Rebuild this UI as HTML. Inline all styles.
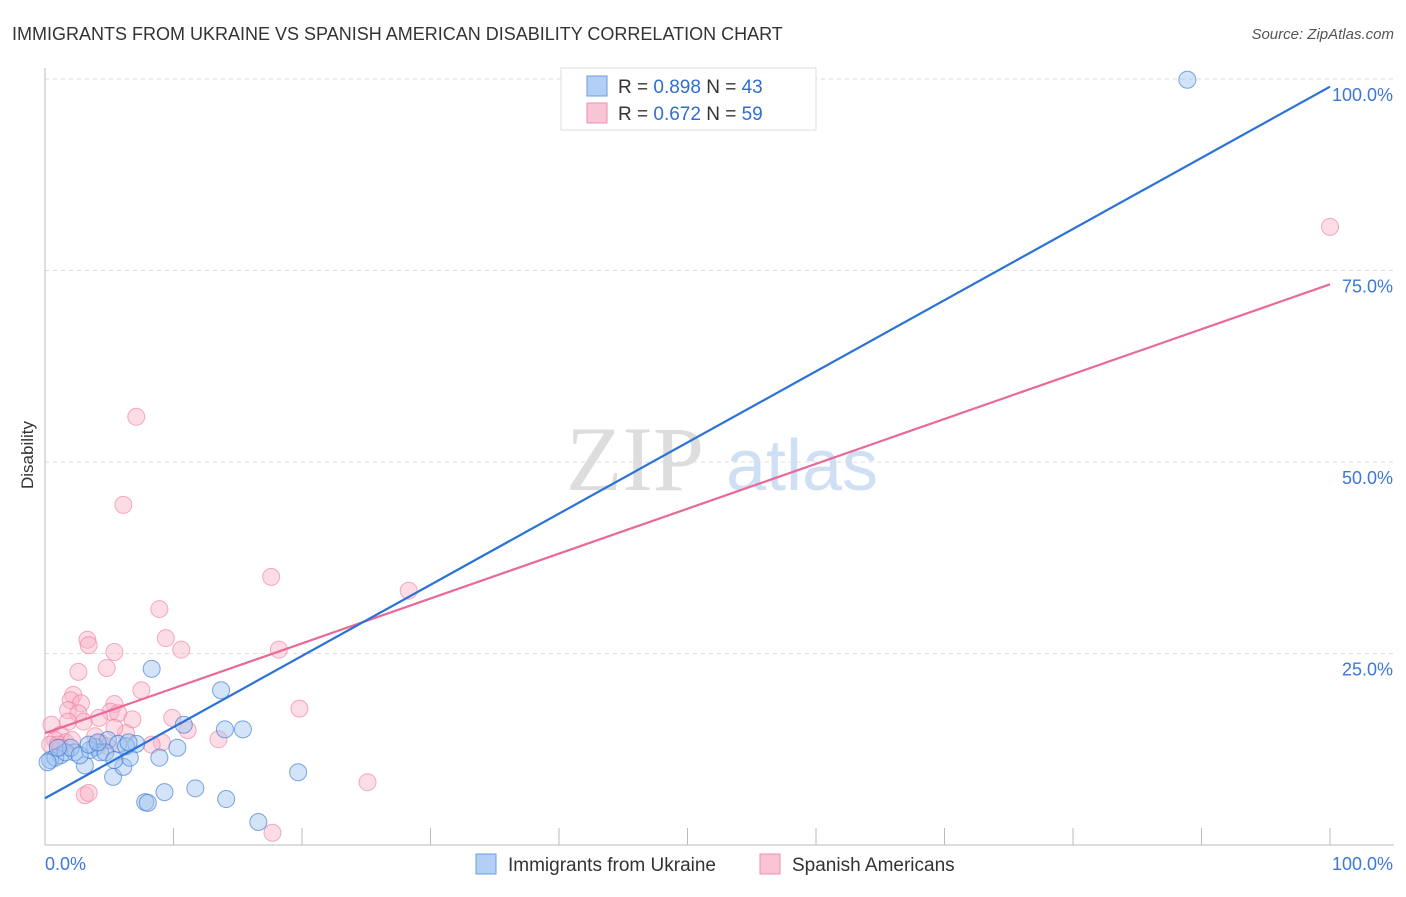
<!DOCTYPE html>
<html><head><meta charset="utf-8"><style>
body{margin:0;background:#fff;font-family:"Liberation Sans",sans-serif}
</style></head><body>
<svg id="chart" width="1406" height="892" xmlns="http://www.w3.org/2000/svg" font-family="Liberation Sans, sans-serif">
<text x="12" y="40" font-size="18" fill="#333">IMMIGRANTS FROM UKRAINE VS SPANISH AMERICAN DISABILITY CORRELATION CHART</text>
<text x="1394" y="39" font-size="15" fill="#555" text-anchor="end" font-style="italic">Source: ZipAtlas.com</text>
<text transform="translate(33,455) rotate(-90)" font-size="17" fill="#333" text-anchor="middle">Disability</text>
<g><text x="635" y="490" font-size="92" fill="#ddd" font-family="Liberation Serif, serif" text-anchor="middle">ZIP</text><text x="802" y="490" font-size="72" fill="#cfe0f4" text-anchor="middle">atlas</text></g>
<g id="grid"></g><g id="axes"></g><g id="pts"></g><g id="lines"></g>
<g>
<rect x="561" y="68" width="255" height="62" fill="#fff" stroke="#ddd"/>
<rect x="587" y="76" width="20" height="20" fill="#b3cff5" stroke="#6a9ee0"/>
<rect x="587" y="103" width="20" height="20" fill="#f9c4d4" stroke="#ee8fae"/>
<text x="618" y="93" font-size="19" fill="#333">R = <tspan fill="#2f6fd0">0.898</tspan>   N = <tspan fill="#2f6fd0">43</tspan></text>
<text x="618" y="120" font-size="19" fill="#333">R = <tspan fill="#2f6fd0">0.672</tspan>   N = <tspan fill="#2f6fd0">59</tspan></text>
</g>
<g>
<rect x="476" y="854" width="20" height="20" fill="#b3cff5" stroke="#6a9ee0"/>
<text x="508" y="871" font-size="19" fill="#333">Immigrants from Ukraine</text>
<rect x="760" y="854" width="20" height="20" fill="#f9c4d4" stroke="#ee8fae"/>
<text x="792" y="871" font-size="19" fill="#333">Spanish Americans</text>
</g>
</svg>
<script>
const yTicks=[25,50,75,100];
const yTickLabels=["25.0%","50.0%","75.0%","100.0%"];
const blueX=[88.9,8.3,13.7,10.8,14.0,15.4,10.3,8.9,19.7,11.7,9.3,14.1,7.8,8.0,16.6,5.3,6.1,6.6,7.1,4.9,3.1,3.9,2.3,1.2,0.4,0.8,1.6,2.0,3.5,4.3,5.7,6.3,2.7,4.7,0.2,1.0,3.4,4.1,5.4,6.5];
const blueY=[99.9,23.0,20.2,15.7,15.1,15.1,12.7,11.4,9.5,7.4,6.9,6.0,5.6,5.5,3.0,8.9,10.2,11.4,13.2,13.7,10.4,12.8,12.1,11.7,11.1,11.4,12.1,12.7,12.4,12.1,13.2,12.9,11.7,12.1,10.8,12.7,13.1,13.4,11.1,13.4];
const pinkX=[100,7.1,6.1,17.6,28.3,8.9,3.3,9.4,3.4,5.4,10.6,18.2,2.6,4.8,7.5,2.2,2.0,2.8,5.4,1.8,2.6,5.1,5.7,9.9,6.8,4.2,3.0,1.8,0.5,11.1,19.8,13.5,9.1,6.3,1.2,0.8,1.6,0.4,1.0,2.1,4.9,4.3,8.3,3.1,3.4,25.1,17.7,1.2,3.9,5.4];
const pinkY=[80.7,55.9,44.4,35.0,33.2,30.8,26.8,27.0,26.1,25.2,25.5,25.5,22.6,23.1,20.2,19.6,18.9,18.5,18.4,17.6,17.2,17.4,17.2,16.6,16.4,16.6,16.1,16.1,15.7,15.0,17.8,13.8,13.4,14.6,14.4,13.7,13.4,13.1,13.1,13.7,12.9,13.4,13.1,6.5,6.8,8.2,1.6,12.7,14.2,15.3];
const blueLine=[6.1,99.0];
const pinkLine=[14.6,73.2];
const X=v=>45+v*12.85, Y=v=>845-v*7.66;
const NS="http://www.w3.org/2000/svg";
function mk(tag,attrs,parent){const e=document.createElementNS(NS,tag);for(const k in attrs)e.setAttribute(k,attrs[k]);document.getElementById(parent).appendChild(e);return e;}
yTicks.forEach((t,i)=>{
 const g=mk('line',{x1:45,x2:1394,y1:Y(t),y2:Y(t),stroke:'#ddd','stroke-dasharray':'4,4'},'grid');
 
 
 const l=mk('text',{x:1393,y:Y(t)+22,'font-size':18,fill:'#3b78d8','text-anchor':'end'},'grid');l.textContent=yTickLabels[i];
 
 
});
let a=mk('line',{x1:45,x2:45,y1:68,y2:845,stroke:'#bbb'},'axes');


a=mk('line',{x1:45,x2:1394,y1:845,y2:845,stroke:'#bbb'},'axes');


for(let i=0;i<=10;i++){const t=mk('line',{x1:X(i*10),x2:X(i*10),y1:828,y2:845,stroke:'#bbb'},'axes');
 
 }
let t0=mk('text',{x:45,y:870,'font-size':18,fill:'#3b78d8'},'axes');t0.textContent='0.0%';


t0=mk('text',{x:1393,y:870,'font-size':18,fill:'#3b78d8','text-anchor':'end'},'axes');t0.textContent='100.0%';


pinkX.forEach((x,i)=>{const c=mk('circle',{cx:X(x),cy:Y(pinkY[i]),r:8.5,fill:'rgba(248,180,200,0.45)',stroke:'rgba(236,120,155,0.6)'},'pts');
 
 });
blueX.forEach((x,i)=>{const c=mk('circle',{cx:X(x),cy:Y(blueY[i]),r:8.5,fill:'rgba(160,195,240,0.45)',stroke:'rgba(60,120,210,0.65)'},'pts');
 
 });
let ln=mk('line',{x1:X(0),y1:Y(pinkLine[0]),x2:X(100),y2:Y(pinkLine[1]),stroke:'#e8699a','stroke-width':2.2},'lines');


ln=mk('line',{x1:X(0),y1:Y(blueLine[0]),x2:X(100),y2:Y(blueLine[1]),stroke:'#2a72d6','stroke-width':2.2},'lines');


</script>
</body></html>
